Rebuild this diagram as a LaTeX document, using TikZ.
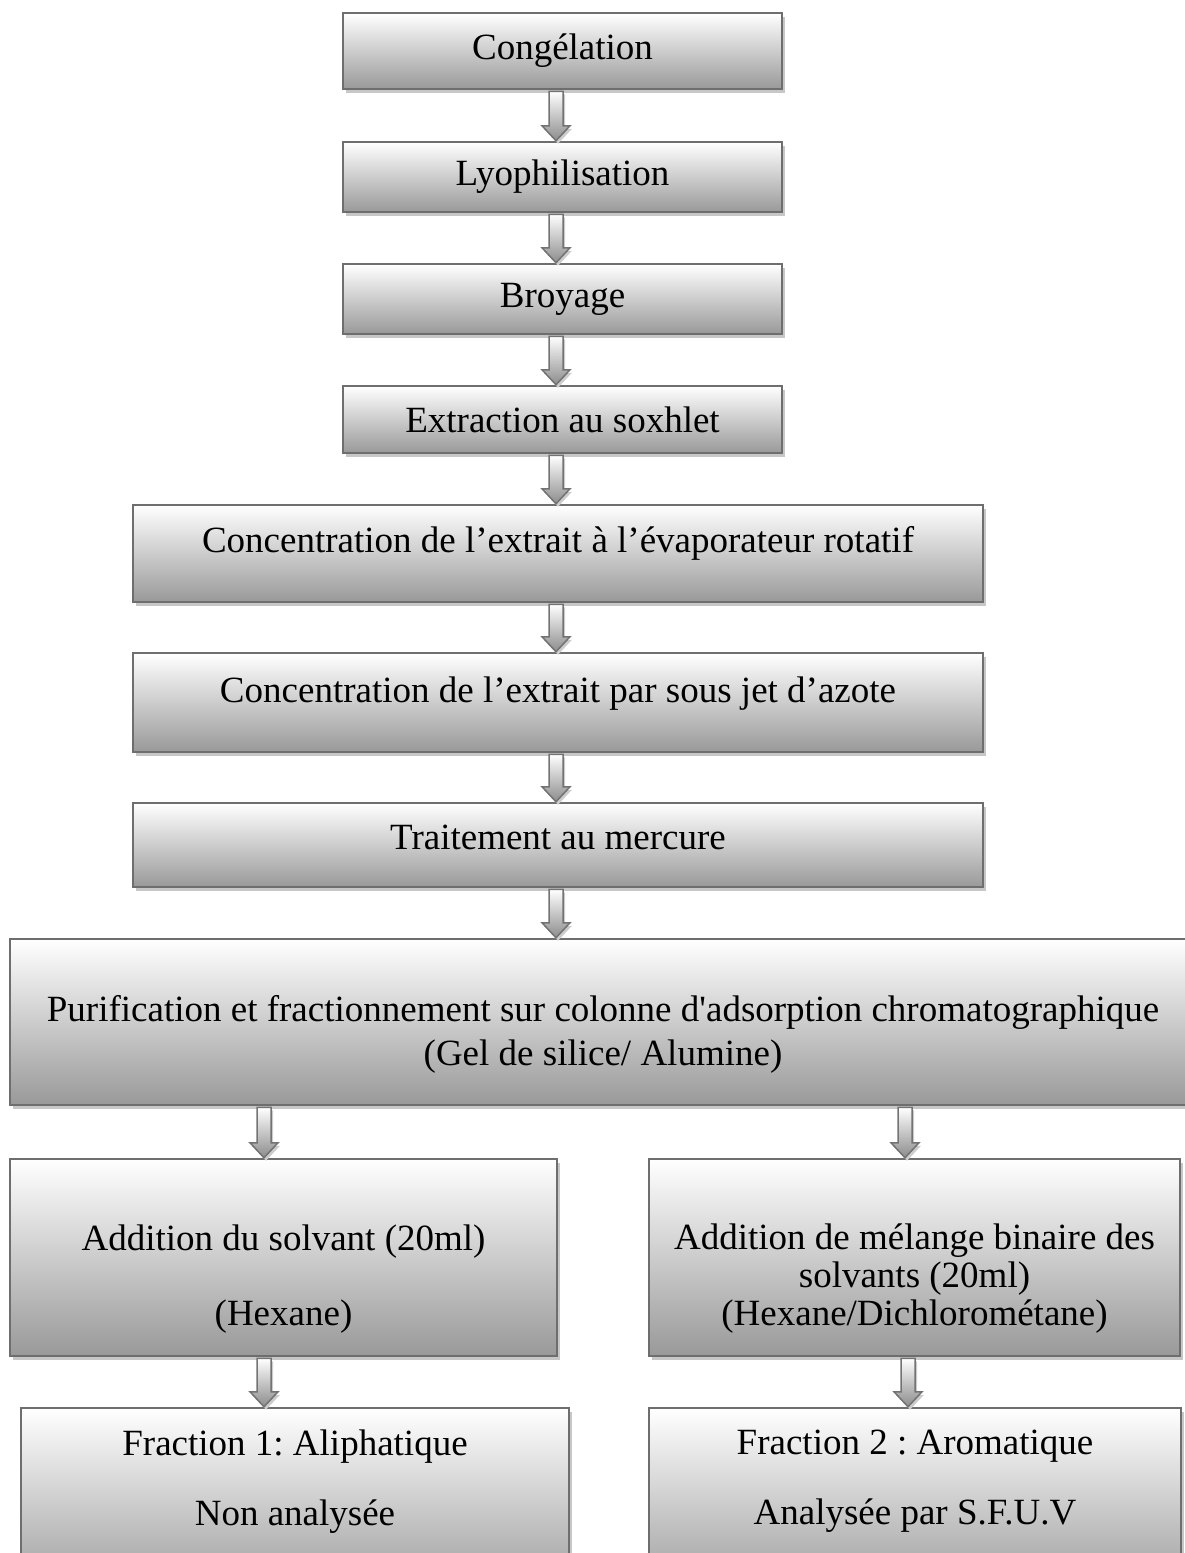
\documentclass[tikz,border=0pt]{standalone}
\usepackage{fontspec}
\setmainfont{Liberation Serif}
\usetikzlibrary{calc,shadows}
\frenchspacing

\newcommand\flowarrow[2]{%
  \path[flowarr] let \p1=(#1), \p2=(#2) in
    (\x1-7pt,\y1-1pt) -- (\x1+7pt,\y1-1pt) -- (\x1+7pt,\y2+15pt) -- (\x1+14pt,\y2+15pt)
    -- (\x1,\y2) -- (\x1-14pt,\y2+15pt) -- (\x1-7pt,\y2+15pt) -- cycle;}
\newcommand\xdepth[1]{\rule[-#1]{0pt}{0pt}}
\newcommand\xheight[1]{\rule{0pt}{#1}}

\begin{document}
\begin{tikzpicture}[x=1pt,y=-1pt,
    procbox/.style={draw=black!57,line width=2.5pt,top color=white,bottom color=black!40,
      drop shadow={shadow xshift=3pt,shadow yshift=-4pt,fill=black!22,opacity=1},
      inner sep=0pt,align=center,font=\fontsize{37}{38}\selectfont},
    flowarr/.style={draw=black!55,line width=1.5pt,top color=white,bottom color=black!45,
      drop shadow={shadow xshift=2pt,shadow yshift=-3pt,fill=black!20,opacity=1}}]
  \useasboundingbox (0,0) rectangle (1184,1553);

  \foreach \n/\y/\h/\t in {1/51/76/Congélation,2/177/70/Lyophilisation,
      3/299/70/Broyage,4/419.5/67/Extraction au soxhlet} {
    \node[procbox,minimum width=439pt,minimum height=\h pt] (s\n) at (562.5,\y) {\t};
  }
  \node[procbox,minimum width=850pt,minimum height=97pt] (s5) at (558,553.5)
    {Concentration de l’extrait à l’évaporateur rotatif\xdepth{28pt}};
  \node[procbox,minimum width=850pt,minimum height=99pt] (s6) at (558,702.5)
    {Concentration de l’extrait par sous jet d’azote\xdepth{25pt}};
  \node[procbox,minimum width=850pt,minimum height=84pt] (s7) at (558,845)
    {Traitement au mercure\xdepth{15pt}};
  \node[procbox,minimum width=1200pt,minimum height=166pt] (s8) at (610,1022)
    {\xheight{50pt}\hspace*{-7pt}Purification et fractionnement sur colonne d\textquotesingle adsorption chromatographique\hspace*{7pt}\\[6pt]
     \hspace*{-7pt}(Gel de silice/ Alumine)\hspace*{7pt}};

  \node[procbox,minimum width=547pt,minimum height=197pt] (solA) at (283.5,1257.5)
    {\xheight{68pt}Addition du solvant (20ml)\\[37pt](Hexane)};
  \node[procbox,minimum width=531pt,minimum height=197pt] (solB) at (914.5,1257.5)
    {\xheight{68pt}Addition de mélange binaire des\\solvants (20ml)\\(Hexane/Dichlorométane)};

  \node[procbox,minimum width=548pt,minimum height=192pt] (fracA) at (295,1504)
    {Fraction 1: Aliphatique\\[32pt]Non analysée\xdepth{53pt}};
  \node[procbox,minimum width=532pt,minimum height=192pt] (fracB) at (915,1504)
    {Fraction 2 : Aromatique\\[32pt]Analysée par S.F.U.V\xdepth{53pt}};

  \coordinate (ax) at (556,0);
  \coordinate (al) at (264,0);
  \coordinate (ar) at (905,0);
  \coordinate (ar2) at (908,0);
  \foreach \a/\b in {s1/s2,s2/s3,s3/s4,s4/s5,s5/s6,s6/s7,s7/s8}
    \flowarrow{\a.south -| ax}{\b.north -| ax};
  \flowarrow{s8.south -| al}{solA.north -| al};
  \flowarrow{s8.south -| ar}{solB.north -| ar};
  \flowarrow{solA.south -| al}{fracA.north -| al};
  \flowarrow{solB.south -| ar2}{fracB.north -| ar2};
\end{tikzpicture}
\end{document}
